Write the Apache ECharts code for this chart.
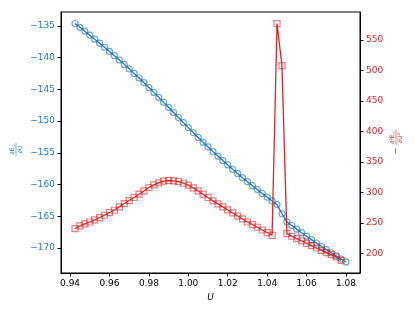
<!DOCTYPE html>
<html>
<head>
<meta charset="utf-8">
<script src="https://cdn.jsdelivr.net/npm/echarts@6/dist/echarts.min.js"></script>
<style>html,body{margin:0;padding:0;background:#fff}#c{width:415px;height:311px}</style>
</head>
<body>
<div id="c"></div>
<script>
const uValues = [0.9425,0.945,0.9475,0.95,0.9525,0.955,0.9575,0.96,0.9625,0.965,0.9675,0.97,0.9725,0.975,0.9775,0.98,0.9825,0.985,0.9875,0.99,0.9925,0.995,0.9975,1.0,1.0025,1.005,1.0075,1.01,1.0125,1.015,1.0175,1.02,1.0225,1.025,1.0275,1.03,1.0325,1.035,1.0375,1.04,1.0425,1.045,1.0475,1.05,1.0525,1.055,1.0575,1.06,1.0625,1.065,1.0675,1.07,1.0725,1.075,1.0775,1.08];
const dEdU = [-134.60,-135.20,-135.82,-136.44,-137.07,-137.70,-138.35,-139.01,-139.68,-140.36,-141.05,-141.75,-142.47,-143.20,-143.94,-144.70,-145.47,-146.25,-147.04,-147.84,-148.64,-149.43,-150.23,-151.02,-151.80,-152.57,-153.32,-154.07,-154.80,-155.51,-156.22,-156.91,-157.59,-158.25,-158.91,-159.55,-160.18,-160.80,-161.41,-162.00,-162.59,-163.16,-164.61,-165.88,-166.46,-167.03,-167.59,-168.14,-168.69,-169.22,-169.74,-170.25,-170.76,-171.25,-171.74,-172.21];
const negD2EdU2 = [241.0,245.3,248.6,251.8,255.1,259.1,262.8,267.3,271.0,276.5,282.0,286.9,291.9,297.3,302.7,308.3,312.6,315.8,318.6,319.8,319.1,318.1,315.3,312.1,307.6,302.7,297.3,291.9,286.3,281.4,276.5,271.5,266.6,261.7,256.8,251.8,247.6,243.2,238.7,234.5,230.0,577.0,508.0,232.8,228.4,224.6,220.7,216.9,213.1,209.2,205.4,201.6,198.4,194.4,189.0];
const xTicks = [0.94,0.96,0.98,1.00,1.02,1.04,1.06,1.08];
const leftTicks = [-170,-165,-160,-155,-150,-145,-140,-135];
const rightTicks = [200,250,300,350,400,450,500,550];

const BLUE = '#1f77b4', RED = '#d62728';
const font = 'DejaVu Sans';
const minus = v => String(v).replace('-', '\u2212');

const blueData = uValues.map((u, i) => [u, dEdU[i]]);
const redData = negD2EdU2.map((v, i) => [uValues[i], v]);

const chart = echarts.init(document.getElementById('c'), null, {renderer: 'canvas'});
chart.setOption({
  animation: false,
  backgroundColor: '#fff',
  grid: {left: 61, right: 55, top: 12, bottom: 38, show: true, borderColor: '#000', borderWidth: 1},
  xAxis: {
    type: 'value', min: 0.9354, max: 1.0871,
    name: 'U', nameLocation: 'middle', nameGap: 17,
    nameTextStyle: {fontFamily: font, fontSize: 9, fontStyle: 'italic', color: '#000'},
    axisLine: {show: true, onZero: false, lineStyle: {color: '#000', width: 1}},
    axisTick: {show: true, length: 3.5, customValues: xTicks, lineStyle: {color: '#000'}},
    axisLabel: {customValues: xTicks, fontFamily: font, fontSize: 9, color: '#000', margin: 6,
      formatter: v => v.toFixed(2)},
    splitLine: {show: false}
  },
  yAxis: [{
    type: 'value', min: -173.95, max: -132.79, position: 'left',
    axisLine: {show: true, onZero: false, lineStyle: {color: '#000', width: 1}},
    axisTick: {show: true, length: 3.5, customValues: leftTicks, lineStyle: {color: '#000'}},
    axisLabel: {customValues: leftTicks, fontFamily: font, fontSize: 9, color: BLUE, margin: 6,
      formatter: v => minus(v)},
    splitLine: {show: false}
  }, {
    type: 'value', min: 168.2, max: 595.9, position: 'right',
    axisLine: {show: true, onZero: false, lineStyle: {color: '#000', width: 1}},
    axisTick: {show: true, length: 3.5, customValues: rightTicks, lineStyle: {color: '#000'}},
    axisLabel: {customValues: rightTicks, fontFamily: font, fontSize: 9, color: RED, margin: 6},
    splitLine: {show: false}
  }],
  series: [{
    type: 'line', yAxisIndex: 0, data: blueData,
    symbol: 'circle', symbolSize: 6, showAllSymbol: true,
    lineStyle: {color: BLUE, width: 1.3},
    itemStyle: {color: 'rgba(255,255,255,0)', borderColor: 'rgba(31,119,180,0.65)', borderWidth: 1.2},
    z: 2
  }, {
    type: 'line', yAxisIndex: 1, data: redData,
    symbol: 'rect', symbolSize: 6, showAllSymbol: true,
    lineStyle: {color: RED, width: 1.3},
    itemStyle: {color: 'rgba(255,255,255,0)', borderColor: 'rgba(214,39,40,0.6)', borderWidth: 1.2},
    z: 3
  }],
  graphic: [{
    type: 'group', x: 16, y: 150, rotation: Math.PI / 2,
    children: [
      {type: 'text', x: -1, y: -4, style: {text: '\u2202E', fontFamily: font, fontSize: 6, fill: BLUE, align: 'center', verticalAlign: 'middle'}},
      {type: 'text', x: 4.5, y: -2.5, style: {text: 'c', fontFamily: font, fontSize: 4, fill: BLUE, align: 'center', verticalAlign: 'middle'}},
      {type: 'line', shape: {x1: -6, y1: 0, x2: 7, y2: 0}, style: {stroke: BLUE, lineWidth: 0.6}},
      {type: 'text', x: 0.5, y: 4, style: {text: '\u2202U', fontFamily: font, fontSize: 6, fill: BLUE, align: 'center', verticalAlign: 'middle'}}
    ]
  }, {
    type: 'group', x: 396, y: 141, rotation: Math.PI / 2,
    children: [
      {type: 'text', x: -10, y: 0, style: {text: '\u2212', fontFamily: font, fontSize: 9, fill: RED, align: 'center', verticalAlign: 'middle'}},
      {type: 'text', x: 2, y: -4, style: {text: '\u2202\u00b2E', fontFamily: font, fontSize: 6, fill: RED, align: 'center', verticalAlign: 'middle'}},
      {type: 'text', x: 8.5, y: -2.5, style: {text: 'c', fontFamily: font, fontSize: 4, fill: RED, align: 'center', verticalAlign: 'middle'}},
      {type: 'line', shape: {x1: -4, y1: 0, x2: 11, y2: 0}, style: {stroke: RED, lineWidth: 0.6}},
      {type: 'text', x: 3, y: 4, style: {text: '\u2202U\u00b2', fontFamily: font, fontSize: 6, fill: RED, align: 'center', verticalAlign: 'middle'}}
    ]
  }]
});
</script>
</body>
</html>
